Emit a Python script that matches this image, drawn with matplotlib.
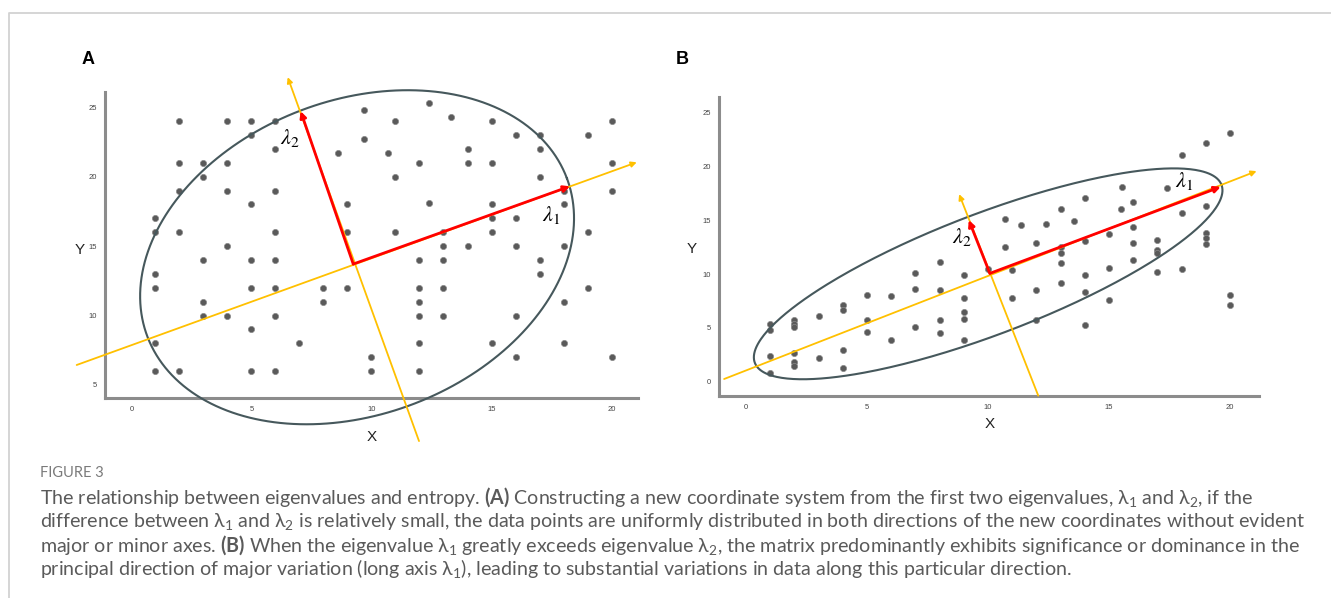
import numpy as np
import matplotlib.pyplot as plt
from matplotlib.lines import Line2D

plt.rcParams['font.family'] = ['Liberation Sans', 'DejaVu Sans']
plt.rcParams['mathtext.fontset'] = 'custom'
plt.rcParams['mathtext.rm'] = 'Lato'
plt.rcParams['mathtext.it'] = 'Lato'
plt.rcParams['mathtext.bf'] = 'Lato:bold'

# Panel A: evenly spread data (lambda1 close to lambda2)
a_x = [2, 4, 5, 6, 5, 6, 8.6, 2, 3, 4, 3, 2, 4, 6, 5, 9, 1, 1, 2, 6, 9,
       9.7, 12.4, 11, 13.3, 15, 20, 9.7, 16, 17, 19, 10.7, 14, 17, 12, 14, 15, 20,
       11, 17, 20, 18, 18, 12.4, 15, 15, 16, 11, 13, 15, 19,
       4, 3, 5, 6, 1, 1, 5, 6, 8, 9, 3, 8, 3, 4, 6, 5, 1, 7, 1, 2, 5, 6,
       13, 14, 16, 18, 12, 13, 17, 17, 12, 13, 19, 12, 18, 12, 13, 16, 12, 15, 18,
       10, 16, 20, 10, 12]
a_y = [24, 24, 24, 24, 23, 22, 21.7, 21, 21, 21, 20, 19, 19, 19, 18, 18, 17, 16, 16, 16, 16,
       24.8, 25.3, 24, 24.3, 24, 24, 22.7, 23, 23, 23, 21.7, 22, 22, 21, 21, 21, 21,
       20, 20, 19, 19, 18, 18.1, 18, 17, 17, 16, 16, 16, 16,
       15, 14, 14, 14, 13, 12, 12, 12, 12, 12, 11, 11, 10, 10, 10, 9, 8, 8, 6, 6, 6, 6,
       15, 15, 15, 15, 14, 14, 14, 13, 12, 12, 12, 11, 11, 10, 10, 10, 8, 8, 8,
       7, 7, 7, 6, 6]

# Panel B: data stretched along one direction (lambda1 >> lambda2)
b_x = [1, 1, 1, 1, 2, 2, 2, 2, 2, 2, 3, 3, 4, 4, 4, 4, 5, 5, 5, 6, 6,
       7, 7, 7, 8, 8, 8, 8, 9, 9, 9, 9, 9, 10, 10.7, 11, 11, 12, 12, 12,
       13, 13, 13, 13, 14, 14, 14, 14, 15, 15, 15, 16, 16, 17, 17, 17, 17, 18,
       19, 19, 19, 20, 20, 20, 19, 18, 15.55, 17.4, 14, 16, 13, 15.5, 19, 18,
       10.7, 11.35, 12.4, 13.55, 16]
b_y = [5.4, 4.8, 2.4, 0.8, 5.7, 5.4, 5.1, 2.7, 1.8, 1.5, 6.1, 2.2, 7.1, 6.7, 2.95, 1.3,
       8.1, 5.7, 4.6, 8.0, 3.9, 10.1, 8.6, 5.05, 11.1, 8.5, 5.7, 4.5,
       9.9, 7.8, 6.45, 5.8, 3.85, 10.5, 12.5, 10.4, 7.8, 12.9, 8.5, 5.7,
       12.5, 12.0, 11.0, 9.2, 13.1, 9.9, 8.3, 5.3, 13.7, 10.6, 7.6, 12.9, 11.3,
       13.2, 12.25, 12.0, 10.2, 10.5, 13.85, 13.4, 12.8, 8.1, 7.1, 23.1, 22.15, 21.1,
       18.1, 18.0, 17.1, 16.7, 16.1, 16.05, 16.3, 15.7, 15.1, 14.55, 14.65, 14.95, 14.4]

x_ticks = [0, 5, 10, 15, 20]
a_y_ticks = [5, 10, 15, 20, 25]
b_y_ticks = [0, 5, 10, 15, 20, 25]

# ellipse: centre and two conjugate semi-axis vectors (data units)
a_ell = dict(c=(9.40, 14.2), u=(8.74, 5.69), v=(-2.30, 10.6))
b_ell = dict(c=(10.01, 10.03), u=(9.64, 8.28), v=(-0.89, 5.25))

# eigenvector arrows: origin, lambda1 tip, lambda2 tip
a_org, a_l1, a_l2 = (9.24, 13.71), (18.27, 19.31), (7.05, 24.72)
b_org, b_l1, b_l2 = (10.08, 10.07), (19.62, 18.12), (9.21, 15.03)

# yellow coordinate axes: (start, end) of each line
a_axis1 = ((-2.28, 6.44), (21.05, 21.04))
a_axis2 = ((11.98, 0.96), (6.51, 27.17))
b_axis1 = ((-0.9, 0.25), (21.1, 19.58))
b_axis2 = ((12.08, -1.3), (8.81, 17.44))

DOT = '#5a5a5a'
ELL = '#46585c'
GOLD = '#ffc000'
RED = '#ff0000'


def arrow(ax, start, end, color, lw, scale):
    ax.annotate('', xy=end, xytext=start, annotation_clip=False,
                arrowprops=dict(arrowstyle='-|>', color=color, lw=lw,
                                mutation_scale=scale, shrinkA=0, shrinkB=0))


def draw_panel(ax, xs, ys, ell, org, l1, l2, ax1, ax2, xlim, ylim, yticks):
    ax.set_xlim(xlim)
    ax.set_ylim(ylim)
    for s in ['top', 'right']:
        ax.spines[s].set_visible(False)
    for s in ['left', 'bottom']:
        ax.spines[s].set_color('#8c8c8c')
        ax.spines[s].set_linewidth(2.2)
    ax.set_xticks(x_ticks)
    ax.set_yticks(yticks)
    ax.tick_params(length=0, labelsize=5.5, labelcolor='#444444', pad=6)

    ax.scatter(xs, ys, s=20, color=DOT, edgecolor='#8a8a8a', linewidth=0.5, zorder=2)

    t = np.linspace(0, 2 * np.pi, 400)
    ex = ell['c'][0] + ell['u'][0] * np.cos(t) + ell['v'][0] * np.sin(t)
    ey = ell['c'][1] + ell['u'][1] * np.cos(t) + ell['v'][1] * np.sin(t)
    ax.plot(ex, ey, color=ELL, lw=1.5, clip_on=False, zorder=3)

    arrow(ax, ax1[0], ax1[1], GOLD, 1.3, 8)
    arrow(ax, ax2[0], ax2[1], GOLD, 1.3, 8)
    arrow(ax, org, l1, RED, 2.0, 9)
    arrow(ax, org, l2, RED, 2.0, 9)


def axis_names(ax, ypos, xpos):
    ax.set_ylabel('Y', rotation=0, fontsize=11, color='#222222', ha='center', va='center')
    ax.yaxis.set_label_coords(*ypos)
    ax.set_xlabel('X', fontsize=11, color='#222222', ha='center', va='center')
    ax.xaxis.set_label_coords(*xpos)


fig = plt.figure(figsize=(13.31, 5.98), dpi=100)

# light card frame
fig.add_artist(Line2D([0.0064, 0.0064, 1.0], [0.0, 0.979, 0.979], transform=fig.transFigure,
                      color='#d2d2d2', lw=1.3))

ax_a = fig.add_axes([0.0789, 0.3344, 0.4004, 0.5117])
draw_panel(ax_a, a_x, a_y, a_ell, a_org, a_l1, a_l2, a_axis1, a_axis2,
           (-1.1, 21.1), (4.06, 26.1), a_y_ticks)
ax_a.text(6.6, 22.8, r'$\lambda_2$', math_fontfamily='stix', fontsize=16, ha='center', va='center')
ax_a.text(17.48, 17.27, r'$\lambda_1$', math_fontfamily='stix', fontsize=16, ha='center', va='center')
axis_names(ax_a, (-0.047, 0.484), (0.501, -0.127))

ax_b = fig.add_axes([0.5404, 0.3378, 0.4055, 0.5005])
draw_panel(ax_b, b_x, b_y, b_ell, b_org, b_l1, b_l2, b_axis1, b_axis2,
           (-1.1, 21.2), (-1.33, 26.5), b_y_ticks)
ax_b.text(18.1, 18.65, r'$\lambda_1$', math_fontfamily='stix', fontsize=16, ha='center', va='center')
ax_b.text(8.93, 13.45, r'$\lambda_2$', math_fontfamily='stix', fontsize=16, ha='center', va='center')
axis_names(ax_b, (-0.0506, 0.491), (0.5016, -0.094))

fig.text(88 / 1331, 1 - 60 / 598, 'A', fontsize=13, fontweight='bold', ha='center', va='center')
fig.text(682 / 1331, 1 - 60 / 598, 'B', fontsize=13, fontweight='bold', ha='center', va='center')

# caption
cap = ['Lato', 'DejaVu Sans']
fig.text(40 / 1331, 1 - 473 / 598, 'FIGURE 3', family=cap, fontsize=10.5, color='#7a7a7a', va='center')
lines = [
    r'The relationship between eigenvalues and entropy. $\mathbf{(A)}$ Constructing a new coordinate system '
    r'from the first two eigenvalues, $\lambda_1$ and $\lambda_2$, if the',
    r'difference between $\lambda_1$ and $\lambda_2$ is relatively small, the data points are uniformly '
    r'distributed in both directions of the new coordinates without evident',
    r'major or minor axes. $\mathbf{(B)}$ When the eigenvalue $\lambda_1$ greatly exceeds eigenvalue '
    r'$\lambda_2$, the matrix predominantly exhibits significance or dominance in the',
    r'principal direction of major variation (long axis $\lambda_1$), leading to substantial variations '
    r'in data along this particular direction.',
]
for i, ln in enumerate(lines):
    fig.text(40 / 1331, 1 - (497 + 24 * i) / 598, ln, family=cap, fontsize=14.1,
             color='#5a5a5a', va='center')

fig.savefig('out.png', dpi=100)
